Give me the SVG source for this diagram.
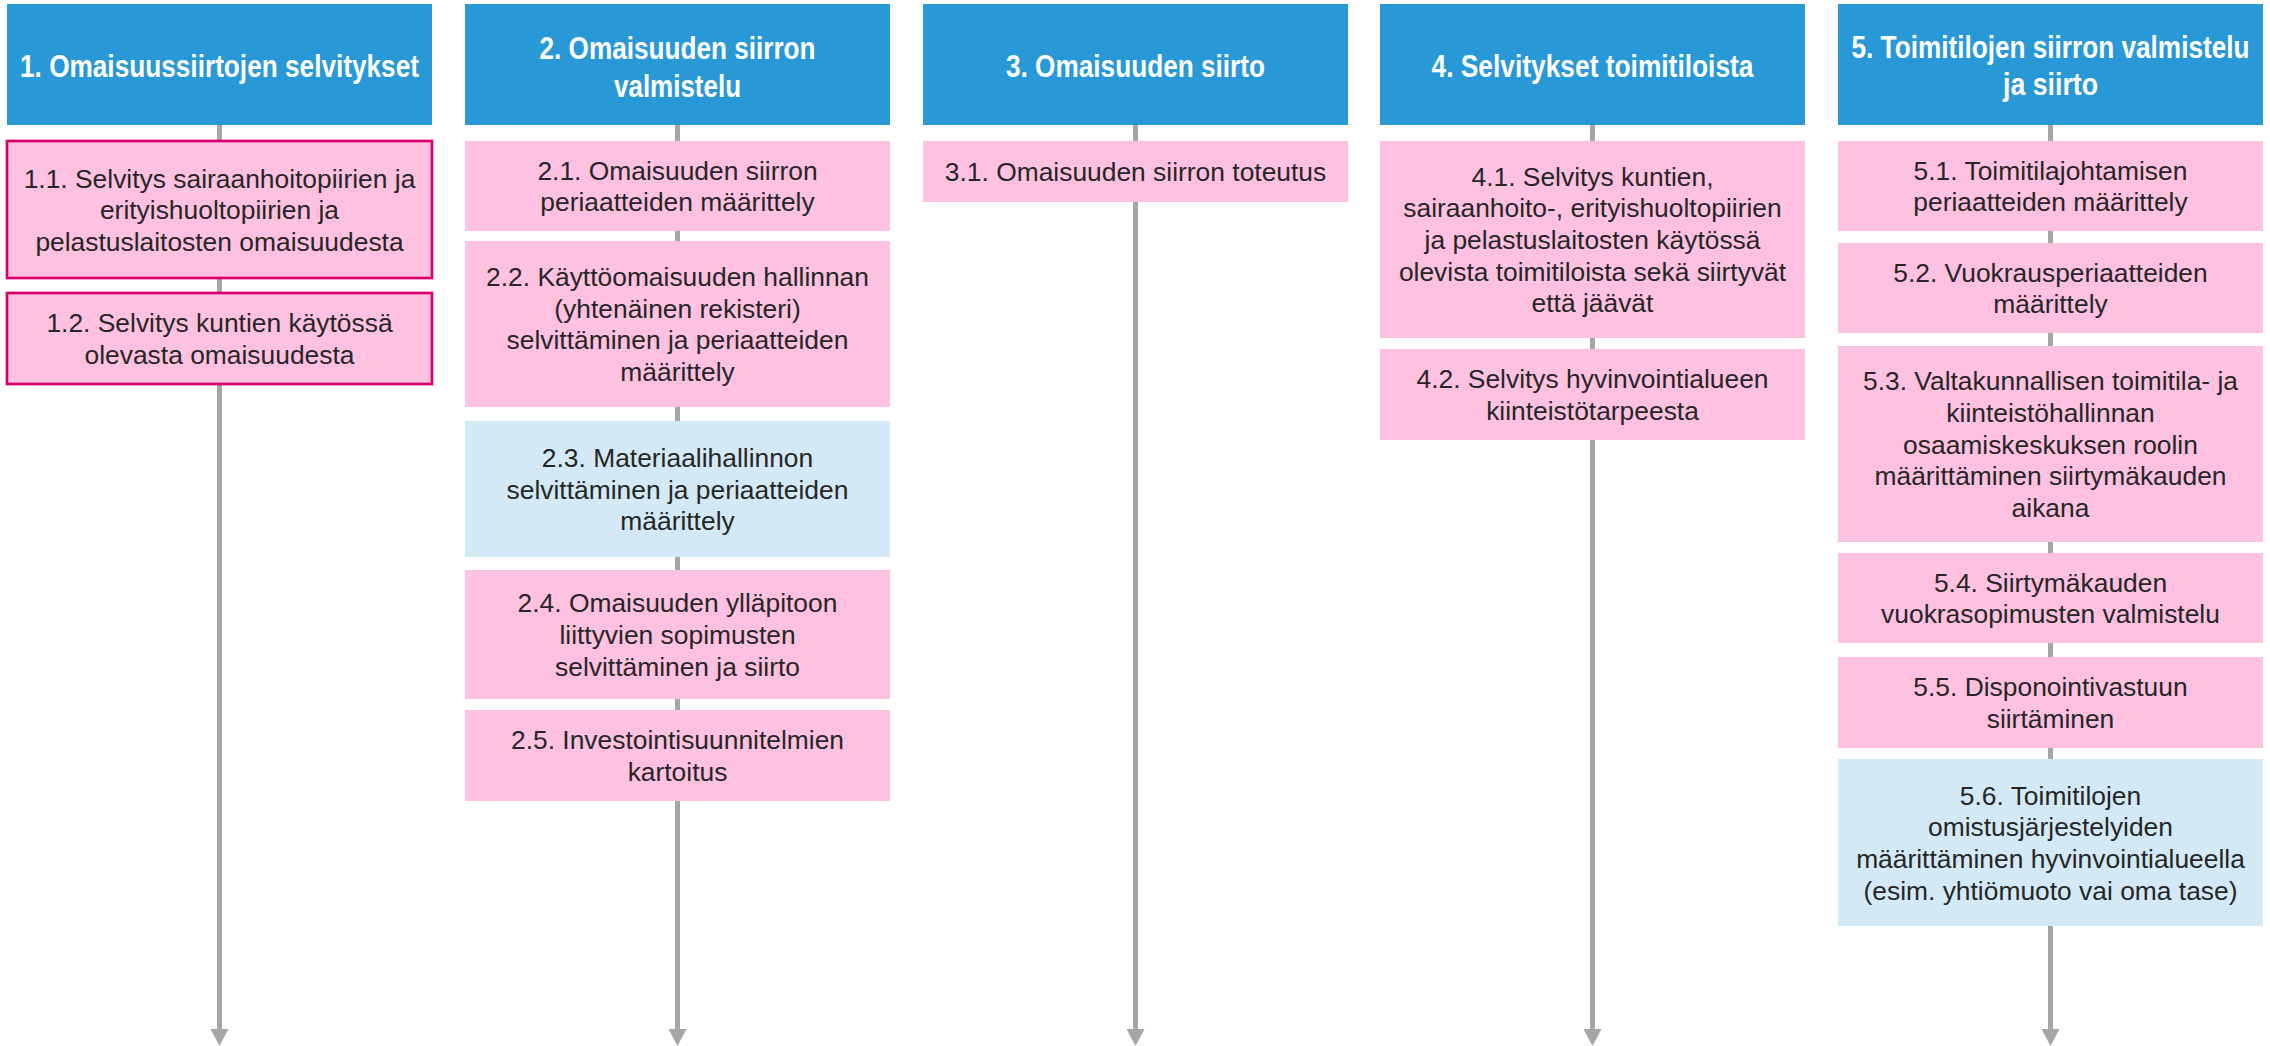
<svg xmlns="http://www.w3.org/2000/svg" width="2270" height="1046" viewBox="0 0 2270 1046">
<defs>
<style>
.hdr{fill:#2898D6;}
.pink{fill:#FFC1E0;}
.lblue{fill:#D3E9F6;}
.bord{stroke:#D9006E;stroke-width:2.7;}
.ht{font-family:"Liberation Sans Narrow","Liberation Sans",Arial,sans-serif;font-weight:bold;font-size:31px;fill:#FFFFFF;text-anchor:middle;}
.bt{font-family:"Liberation Sans",Arial,sans-serif;font-size:26.4px;fill:#262626;text-anchor:middle;}
.conn{stroke:#A6A6A6;stroke-width:5;fill:none;}
</style>
<marker id="arr" markerUnits="userSpaceOnUse" markerWidth="17" markerHeight="18" viewBox="0 0 17 18" refX="0" refY="9" orient="auto">
<path d="M0,0 L17,9 L0,18 Z" fill="#A6A6A6"/>
</marker>
</defs>
<rect width="2270" height="1046" fill="#FFFFFF"/>
<g id="connectors">
<line class="conn" x1="219.5" y1="125" x2="219.5" y2="1029" marker-end="url(#arr)"/>
<line class="conn" x1="677.5" y1="125" x2="677.5" y2="1029" marker-end="url(#arr)"/>
<line class="conn" x1="1135.5" y1="125" x2="1135.5" y2="1029" marker-end="url(#arr)"/>
<line class="conn" x1="1592.5" y1="125" x2="1592.5" y2="1029" marker-end="url(#arr)"/>
<line class="conn" x1="2050.5" y1="125" x2="2050.5" y2="1029" marker-end="url(#arr)"/>
</g>
<!-- Column 1 -->
<g id="h1"><rect class="hdr" x="7" y="4" width="425" height="121"/>
<text class="ht" x="219.5" y="77" textLength="399" lengthAdjust="spacingAndGlyphs">1. Omaisuussiirtojen selvitykset</text></g>
<g id="n1_1"><rect class="pink bord" x="7" y="141" width="425" height="137"/>
<text class="bt" x="219.5"><tspan x="219.5" y="187.5">1.1. Selvitys sairaanhoitopiirien ja</tspan><tspan x="219.5" y="219.2">erityishuoltopiirien ja</tspan><tspan x="219.5" y="250.9">pelastuslaitosten omaisuudesta</tspan></text></g>
<g id="n1_2"><rect class="pink bord" x="7" y="293" width="425" height="91"/>
<text class="bt" x="219.5"><tspan x="219.5" y="332">1.2. Selvitys kuntien käytössä</tspan><tspan x="219.5" y="363.7">olevasta omaisuudesta</tspan></text></g>
<!-- Column 2 -->
<g id="h2"><rect class="hdr" x="465" y="4" width="425" height="121"/>
<text class="ht" x="677.5" y="59.3" textLength="276" lengthAdjust="spacingAndGlyphs">2. Omaisuuden siirron</text>
<text class="ht" x="677.5" y="96.7" textLength="127" lengthAdjust="spacingAndGlyphs">valmistelu</text></g>
<g id="n2_1"><rect class="pink" x="465" y="141" width="425" height="90"/>
<text class="bt"><tspan x="677.5" y="179.7">2.1. Omaisuuden siirron</tspan><tspan x="677.5" y="211.4">periaatteiden määrittely</tspan></text></g>
<g id="n2_2"><rect class="pink" x="465" y="241" width="425" height="166"/>
<text class="bt"><tspan x="677.5" y="286">2.2. Käyttöomaisuuden hallinnan</tspan><tspan x="677.5" y="317.7">(yhtenäinen rekisteri)</tspan><tspan x="677.5" y="349.4">selvittäminen ja periaatteiden</tspan><tspan x="677.5" y="381.1">määrittely</tspan></text></g>
<g id="n2_3"><rect class="lblue" x="465" y="421" width="425" height="136"/>
<text class="bt"><tspan x="677.5" y="466.8">2.3. Materiaalihallinnon</tspan><tspan x="677.5" y="498.5">selvittäminen ja periaatteiden</tspan><tspan x="677.5" y="530.2">määrittely</tspan></text></g>
<g id="n2_4"><rect class="pink" x="465" y="570" width="425" height="129"/>
<text class="bt"><tspan x="677.5" y="612.3">2.4. Omaisuuden ylläpitoon</tspan><tspan x="677.5" y="644">liittyvien sopimusten</tspan><tspan x="677.5" y="675.7">selvittäminen ja siirto</tspan></text></g>
<g id="n2_5"><rect class="pink" x="465" y="710" width="425" height="91"/>
<text class="bt"><tspan x="677.5" y="749">2.5. Investointisuunnitelmien</tspan><tspan x="677.5" y="780.7">kartoitus</tspan></text></g>
<!-- Column 3 -->
<g id="h3"><rect class="hdr" x="923" y="4" width="425" height="121"/>
<text class="ht" x="1135.5" y="77" textLength="259" lengthAdjust="spacingAndGlyphs">3. Omaisuuden siirto</text></g>
<g id="n3_1"><rect class="pink" x="923" y="141" width="425" height="61"/>
<text class="bt" x="1135.5" y="181">3.1. Omaisuuden siirron toteutus</text></g>
<!-- Column 4 -->
<g id="h4"><rect class="hdr" x="1380" y="4" width="425" height="121"/>
<text class="ht" x="1592.5" y="76.5" textLength="322" lengthAdjust="spacingAndGlyphs">4. Selvitykset toimitiloista</text></g>
<g id="n4_1"><rect class="pink" x="1380" y="141" width="425" height="197"/>
<text class="bt"><tspan x="1592.5" y="185.6">4.1. Selvitys kuntien,</tspan><tspan x="1592.5" y="217.3">sairaanhoito-, erityishuoltopiirien</tspan><tspan x="1592.5" y="249">ja pelastuslaitosten käytössä</tspan><tspan x="1592.5" y="280.7">olevista toimitiloista sekä siirtyvät</tspan><tspan x="1592.5" y="312.4">että jäävät</tspan></text></g>
<g id="n4_2"><rect class="pink" x="1380" y="349" width="425" height="91"/>
<text class="bt"><tspan x="1592.5" y="388">4.2. Selvitys hyvinvointialueen</tspan><tspan x="1592.5" y="419.7">kiinteistötarpeesta</tspan></text></g>
<!-- Column 5 -->
<g id="h5"><rect class="hdr" x="1838" y="4" width="425" height="121"/>
<text class="ht" x="2050.5" y="57.5" textLength="398" lengthAdjust="spacingAndGlyphs">5. Toimitilojen siirron valmistelu</text>
<text class="ht" x="2050.5" y="95" textLength="95" lengthAdjust="spacingAndGlyphs">ja siirto</text></g>
<g id="n5_1"><rect class="pink" x="1838" y="141" width="425" height="90"/>
<text class="bt"><tspan x="2050.5" y="179.7">5.1. Toimitilajohtamisen</tspan><tspan x="2050.5" y="211.4">periaatteiden määrittely</tspan></text></g>
<g id="n5_2"><rect class="pink" x="1838" y="243" width="425" height="90"/>
<text class="bt"><tspan x="2050.5" y="281.7">5.2. Vuokrausperiaatteiden</tspan><tspan x="2050.5" y="313.4">määrittely</tspan></text></g>
<g id="n5_3"><rect class="pink" x="1838" y="346" width="425" height="196"/>
<text class="bt"><tspan x="2050.5" y="390.1">5.3. Valtakunnallisen toimitila- ja</tspan><tspan x="2050.5" y="421.8">kiinteistöhallinnan</tspan><tspan x="2050.5" y="453.5">osaamiskeskuksen roolin</tspan><tspan x="2050.5" y="485.2">määrittäminen siirtymäkauden</tspan><tspan x="2050.5" y="516.9">aikana</tspan></text></g>
<g id="n5_4"><rect class="pink" x="1838" y="553" width="425" height="90"/>
<text class="bt"><tspan x="2050.5" y="591.7">5.4. Siirtymäkauden</tspan><tspan x="2050.5" y="623.4">vuokrasopimusten valmistelu</tspan></text></g>
<g id="n5_5"><rect class="pink" x="1838" y="657" width="425" height="91"/>
<text class="bt"><tspan x="2050.5" y="696">5.5. Disponointivastuun</tspan><tspan x="2050.5" y="727.7">siirtäminen</tspan></text></g>
<g id="n5_6"><rect class="lblue" x="1838" y="759" width="425" height="167"/>
<text class="bt"><tspan x="2050.5" y="804.5">5.6. Toimitilojen</tspan><tspan x="2050.5" y="836.2">omistusjärjestelyiden</tspan><tspan x="2050.5" y="867.9">määrittäminen hyvinvointialueella</tspan><tspan x="2050.5" y="899.6">(esim. yhtiömuoto vai oma tase)</tspan></text></g>
</svg>
